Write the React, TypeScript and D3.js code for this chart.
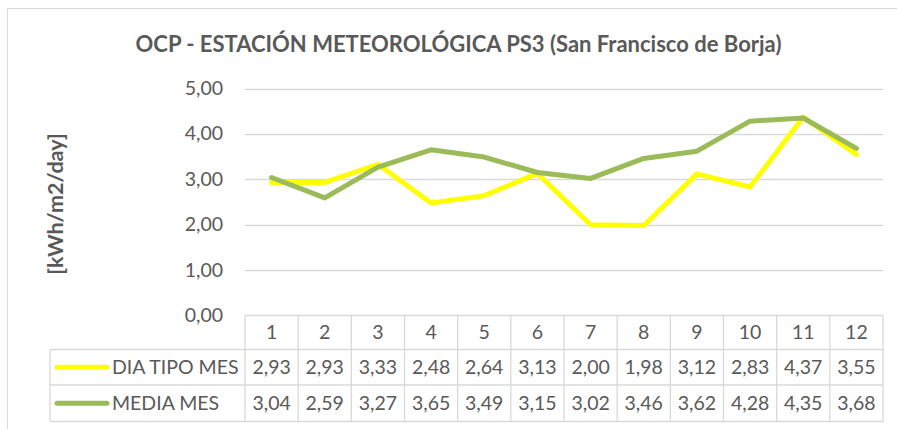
import React, { useEffect, useRef } from 'react';
import * as d3 from 'd3';

// chart data
const months = ['1', '2', '3', '4', '5', '6', '7', '8', '9', '10', '11', '12'];
const diaTipoMes = [2.93, 2.93, 3.33, 2.48, 2.64, 3.13, 2.0, 1.98, 3.12, 2.83, 4.37, 3.55];
const mediaMes = [3.04, 2.59, 3.27, 3.65, 3.49, 3.15, 3.02, 3.46, 3.62, 4.28, 4.35, 3.68];
const seriesNames = ['DIA TIPO MES', 'MEDIA MES'];
const seriesColors = ['#FFFF00', '#9BBB59'];
const yTicks = [0, 1, 2, 3, 4, 5];

const title = 'OCP - ESTACIÓN METEOROLÓGICA PS3 (San Francisco de Borja)';
const yLabel = '[kWh/m2/day]';

const W = 897;
const H = 429;
const FONT = 'Lato, "Open Sans", sans-serif';
const TEXT = '#595959';
const GRID = '#d9d9d9';
const FS = 19.5;

const fmt = (v: number) => v.toFixed(2).replace('.', ',');

export default function App() {
  const ref = useRef<SVGSVGElement>(null);

  useEffect(() => {
    const svg = d3.select(ref.current);
    svg.selectAll('*').remove();

    const plot = { left: 245, right: 883, top: 88.5, bottom: 315.5 };
    const legendLeft = 50;
    const rowH = [34, 35.5, 36.5];

    // outer chart frame
    svg.append('rect')
      .attr('x', 7.5).attr('y', 8.5)
      .attr('width', W + 10).attr('height', H + 10)
      .attr('fill', '#fff').attr('stroke', GRID);

    svg.append('text')
      .attr('x', 458.5).attr('y', 51.5)
      .attr('text-anchor', 'middle')
      .attr('font-family', FONT).attr('font-weight', 'bold')
      .attr('font-size', 22).attr('fill', TEXT)
      .text(title);

    const x = d3.scaleBand().domain(months).range([plot.left, plot.right]);
    const y = d3.scaleLinear().domain([0, 5]).range([plot.bottom, plot.top]);

    // gridlines and y tick labels
    svg.append('g').selectAll('line')
      .data(yTicks.filter(d => d > 0))
      .join('line')
      .attr('x1', plot.left).attr('x2', plot.right)
      .attr('y1', d => Math.round(y(d)) + 0.5).attr('y2', d => Math.round(y(d)) + 0.5)
      .attr('stroke', GRID).attr('stroke-width', 1.3);

    svg.append('g').selectAll('text')
      .data(yTicks)
      .join('text')
      .attr('x', 223).attr('y', d => y(d) + 6.5)
      .attr('text-anchor', 'end')
      .attr('font-family', FONT).attr('font-size', FS).attr('fill', TEXT)
      .text(d => fmt(d));

    svg.append('text')
      .attr('transform', 'translate(63,204) rotate(-90)')
      .attr('text-anchor', 'middle')
      .attr('font-family', FONT).attr('font-weight', 'bold')
      .attr('font-size', 21.5).attr('fill', TEXT)
      .text(yLabel);

    // data table
    const r0 = plot.bottom;
    const r1 = r0 + rowH[0];
    const r2 = r1 + rowH[1];
    const r3 = r2 + rowH[2];
    const table = svg.append('g').attr('stroke', GRID).attr('stroke-width', 1.3);
    table.append('line').attr('x1', plot.left).attr('x2', plot.right).attr('y1', r0).attr('y2', r0);
    [r1, r2, r3].forEach(r => {
      table.append('line').attr('x1', legendLeft).attr('x2', plot.right).attr('y1', r).attr('y2', r);
    });
    table.append('line').attr('x1', legendLeft).attr('x2', legendLeft).attr('y1', r1).attr('y2', r3);
    table.selectAll('.vcol')
      .data([...months.map(m => x(m) as number), plot.right])
      .join('line')
      .attr('class', 'vcol')
      .attr('x1', d => d).attr('x2', d => d)
      .attr('y1', r0).attr('y2', r3);

    const cx = (m: string) => (x(m) as number) + x.bandwidth() / 2;

    svg.append('g').selectAll('text')
      .data(months)
      .join('text')
      .attr('x', d => cx(d)).attr('y', r0 + 23.5)
      .attr('text-anchor', 'middle')
      .attr('font-family', FONT).attr('font-size', FS).attr('fill', TEXT)
      .text(d => d);

    [diaTipoMes, mediaMes].forEach((vals, i) => {
      const rowTop = i === 0 ? r1 : r2;
      const rowMid = rowTop + (i === 0 ? rowH[1] : rowH[2]) / 2;
      const g = svg.append('g');
      g.selectAll('text')
        .data(vals)
        .join('text')
        .attr('x', (d, j) => cx(months[j])).attr('y', rowMid + 7)
        .attr('text-anchor', 'middle')
        .attr('font-family', FONT).attr('font-size', FS).attr('fill', TEXT)
        .text(d => fmt(d));
      g.append('line')
        .attr('x1', 57).attr('x2', 107)
        .attr('y1', rowMid).attr('y2', rowMid)
        .attr('stroke', seriesColors[i]).attr('stroke-width', 5)
        .attr('stroke-linecap', 'round');
      g.append('text')
        .attr('x', 112).attr('y', rowMid + 7)
        .attr('font-family', FONT).attr('font-size', FS).attr('fill', TEXT)
        .text(seriesNames[i]);
    });

    // series lines
    const line = d3.line<number>()
      .x((d, j) => cx(months[j]))
      .y(d => y(d));

    [diaTipoMes, mediaMes].forEach((vals, i) => {
      svg.append('path')
        .datum(vals)
        .attr('d', line)
        .attr('fill', 'none')
        .attr('stroke', seriesColors[i])
        .attr('stroke-width', 5)
        .attr('stroke-linejoin', 'round')
        .attr('stroke-linecap', 'round');
    });
  }, []);

  return (
    <svg ref={ref} width={W} height={H}
      style={{ position: 'absolute', left: 0, top: 0, background: '#fff' }} />
  );
}
